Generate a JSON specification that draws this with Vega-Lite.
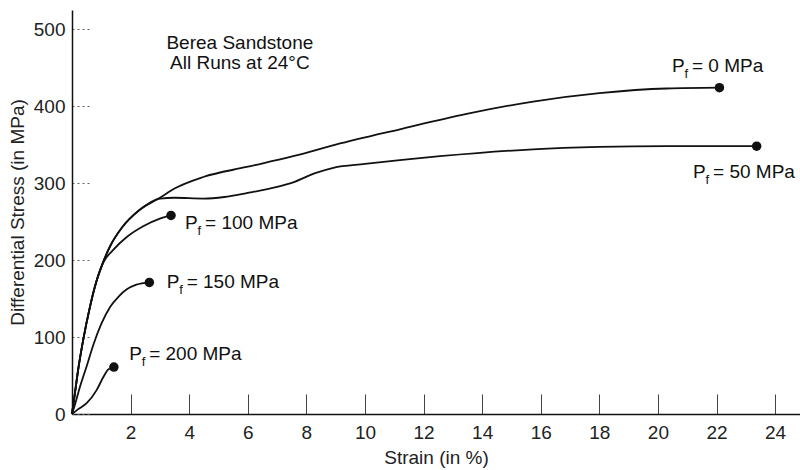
{
  "$schema": "https://vega.github.io/schema/vega-lite/v6.json",
  "width": 728,
  "height": 404,
  "autosize": {"type": "none"},
  "padding": {"left": 72, "top": 10, "right": 0, "bottom": 56},
  "background": "white",
  "config": {
    "view": {"stroke": null},
    "font": "Liberation Sans",
    "axis": {"labelFont": "Liberation Sans", "titleFont": "Liberation Sans", "labelColor": "#222", "titleColor": "#222", "labelFontSize": 19, "titleFontSize": 19, "titleFontWeight": "normal", "grid": false, "domainColor": "#111", "domainWidth": 1.5}
  },
  "datasets": {
    "curves": [
      {"run": "0", "i": 0, "strain": 0, "stress": 0},
      {"run": "0", "i": 1, "strain": 0.1, "stress": 27},
      {"run": "0", "i": 2, "strain": 0.2, "stress": 55},
      {"run": "0", "i": 3, "strain": 0.4, "stress": 100},
      {"run": "0", "i": 4, "strain": 0.6, "stress": 137},
      {"run": "0", "i": 5, "strain": 0.8, "stress": 168},
      {"run": "0", "i": 6, "strain": 1.07, "stress": 198},
      {"run": "0", "i": 7, "strain": 1.3, "stress": 218},
      {"run": "0", "i": 8, "strain": 1.7, "stress": 242},
      {"run": "0", "i": 9, "strain": 2.3, "stress": 265},
      {"run": "0", "i": 10, "strain": 3.0, "stress": 281},
      {"run": "0", "i": 11, "strain": 3.5, "stress": 293},
      {"run": "0", "i": 12, "strain": 4.48, "stress": 308},
      {"run": "0", "i": 13, "strain": 5.96, "stress": 321},
      {"run": "0", "i": 14, "strain": 7.55, "stress": 335},
      {"run": "0", "i": 15, "strain": 9.0, "stress": 350},
      {"run": "0", "i": 16, "strain": 11.19, "stress": 370},
      {"run": "0", "i": 17, "strain": 13.47, "stress": 390},
      {"run": "0", "i": 18, "strain": 15.74, "stress": 406},
      {"run": "0", "i": 19, "strain": 18.0, "stress": 417},
      {"run": "0", "i": 20, "strain": 20.3, "stress": 423},
      {"run": "0", "i": 21, "strain": 22.1, "stress": 424},

      {"run": "50", "i": 0, "strain": 0, "stress": 0},
      {"run": "50", "i": 1, "strain": 0.1, "stress": 27},
      {"run": "50", "i": 2, "strain": 0.2, "stress": 55},
      {"run": "50", "i": 3, "strain": 0.4, "stress": 100},
      {"run": "50", "i": 4, "strain": 0.6, "stress": 137},
      {"run": "50", "i": 5, "strain": 0.8, "stress": 168},
      {"run": "50", "i": 6, "strain": 1.07, "stress": 198},
      {"run": "50", "i": 7, "strain": 1.3, "stress": 218},
      {"run": "50", "i": 8, "strain": 1.7, "stress": 242},
      {"run": "50", "i": 9, "strain": 2.3, "stress": 265},
      {"run": "50", "i": 10, "strain": 3.0, "stress": 280},
      {"run": "50", "i": 11, "strain": 3.5, "stress": 281},
      {"run": "50", "i": 12, "strain": 4.48, "stress": 280},
      {"run": "50", "i": 13, "strain": 5.2, "stress": 282},
      {"run": "50", "i": 14, "strain": 5.96, "stress": 287},
      {"run": "50", "i": 15, "strain": 7.0, "stress": 295},
      {"run": "50", "i": 16, "strain": 7.55, "stress": 301},
      {"run": "50", "i": 17, "strain": 8.3, "stress": 313},
      {"run": "50", "i": 18, "strain": 8.92, "stress": 320},
      {"run": "50", "i": 19, "strain": 10.0, "stress": 325},
      {"run": "50", "i": 20, "strain": 11.19, "stress": 330},
      {"run": "50", "i": 21, "strain": 12.56, "stress": 335},
      {"run": "50", "i": 22, "strain": 15.74, "stress": 344},
      {"run": "50", "i": 23, "strain": 18.0, "stress": 347},
      {"run": "50", "i": 24, "strain": 20.3, "stress": 348},
      {"run": "50", "i": 25, "strain": 23.37, "stress": 348},

      {"run": "100", "i": 0, "strain": 0, "stress": 0},
      {"run": "100", "i": 1, "strain": 0.1, "stress": 27},
      {"run": "100", "i": 2, "strain": 0.2, "stress": 55},
      {"run": "100", "i": 3, "strain": 0.4, "stress": 100},
      {"run": "100", "i": 4, "strain": 0.6, "stress": 137},
      {"run": "100", "i": 5, "strain": 0.8, "stress": 168},
      {"run": "100", "i": 6, "strain": 1.07, "stress": 197},
      {"run": "100", "i": 7, "strain": 1.4, "stress": 213},
      {"run": "100", "i": 8, "strain": 1.87, "stress": 230},
      {"run": "100", "i": 9, "strain": 2.43, "stress": 244},
      {"run": "100", "i": 10, "strain": 3.0, "stress": 254},
      {"run": "100", "i": 11, "strain": 3.38, "stress": 258},

      {"run": "150", "i": 0, "strain": 0, "stress": 0},
      {"run": "150", "i": 1, "strain": 0.1, "stress": 12},
      {"run": "150", "i": 2, "strain": 0.27, "stress": 35},
      {"run": "150", "i": 3, "strain": 0.5, "stress": 62},
      {"run": "150", "i": 4, "strain": 0.73, "stress": 90},
      {"run": "150", "i": 5, "strain": 1.0, "stress": 117},
      {"run": "150", "i": 6, "strain": 1.3, "stress": 139},
      {"run": "150", "i": 7, "strain": 1.6, "stress": 153},
      {"run": "150", "i": 8, "strain": 1.87, "stress": 162},
      {"run": "150", "i": 9, "strain": 2.2, "stress": 168},
      {"run": "150", "i": 10, "strain": 2.64, "stress": 171},

      {"run": "200", "i": 0, "strain": 0, "stress": 0},
      {"run": "200", "i": 1, "strain": 0.2, "stress": 6},
      {"run": "200", "i": 2, "strain": 0.5, "stress": 14},
      {"run": "200", "i": 3, "strain": 0.84, "stress": 31},
      {"run": "200", "i": 4, "strain": 1.07, "stress": 48},
      {"run": "200", "i": 5, "strain": 1.24, "stress": 58},
      {"run": "200", "i": 6, "strain": 1.43, "stress": 61}
    ],
    "ends": [
      {"run": "0", "strain": 22.1, "stress": 424},
      {"run": "50", "strain": 23.37, "stress": 348},
      {"run": "100", "strain": 3.38, "stress": 258},
      {"run": "150", "strain": 2.64, "stress": 171},
      {"run": "200", "strain": 1.43, "stress": 61}
    ],
    "labels": [
      {"rest": "= 0 MPa", "lx": 20.48, "ly": 452},
      {"rest": "= 50 MPa", "lx": 21.2, "ly": 314},
      {"rest": "= 100 MPa", "lx": 3.86, "ly": 248},
      {"rest": "= 150 MPa", "lx": 3.23, "ly": 171},
      {"rest": "= 200 MPa", "lx": 1.95, "ly": 78}
    ],
    "title": [
      {"line": "Berea Sandstone", "tx": 5.73, "ty": 482},
      {"line": "All Runs at 24°C", "tx": 5.73, "ty": 456}
    ]
  },
  "layer": [
    {
      "data": {"name": "curves"},
      "mark": {"type": "line", "color": "#111", "strokeWidth": 1.8, "interpolate": "monotone"},
      "encoding": {
        "x": {"field": "strain", "type": "quantitative", "scale": {"domain": [0, 24.85], "nice": false, "zero": false},
          "axis": {"values": [2, 4, 6, 8, 10, 12, 14, 16, 18, 20, 22, 24], "title": "Strain (in %)", "tickSize": -20, "tickColor": "#444", "tickWidth": 1, "labelPadding": 29, "titlePadding": 6}},
        "y": {"field": "stress", "type": "quantitative", "scale": {"domain": [0, 525], "nice": false},
          "axis": {"values": [0, 100, 200, 300, 400, 500], "title": "Differential Stress (in MPa)", "tickSize": -20, "tickColor": "#666", "tickDash": [2, 3], "tickWidth": 1, "labelPadding": 27, "titlePadding": 6}},
        "detail": {"field": "run"},
        "order": {"field": "i", "type": "quantitative"}
      }
    },
    {
      "data": {"name": "ends"},
      "mark": {"type": "point", "filled": true, "color": "#111", "opacity": 1, "size": 90},
      "encoding": {
        "x": {"field": "strain", "type": "quantitative"},
        "y": {"field": "stress", "type": "quantitative"}
      }
    },
    {
      "data": {"name": "labels"},
      "mark": {"type": "text", "align": "left", "baseline": "middle", "fontSize": 19, "color": "#111", "font": "Liberation Sans"},
      "encoding": {
        "x": {"field": "lx", "type": "quantitative"},
        "y": {"field": "ly", "type": "quantitative"},
        "text": {"value": "P"}
      }
    },
    {
      "data": {"name": "labels"},
      "mark": {"type": "text", "align": "left", "baseline": "middle", "fontSize": 13, "dx": 12.5, "dy": 8, "color": "#111", "font": "Liberation Sans"},
      "encoding": {
        "x": {"field": "lx", "type": "quantitative"},
        "y": {"field": "ly", "type": "quantitative"},
        "text": {"value": "f"}
      }
    },
    {
      "data": {"name": "labels"},
      "mark": {"type": "text", "align": "left", "baseline": "middle", "fontSize": 19, "dx": 20, "color": "#111", "font": "Liberation Sans"},
      "encoding": {
        "x": {"field": "lx", "type": "quantitative"},
        "y": {"field": "ly", "type": "quantitative"},
        "text": {"field": "rest"}
      }
    },
    {
      "data": {"name": "title"},
      "mark": {"type": "text", "align": "center", "baseline": "middle", "fontSize": 19, "color": "#111", "font": "Liberation Sans"},
      "encoding": {
        "x": {"field": "tx", "type": "quantitative"},
        "y": {"field": "ty", "type": "quantitative"},
        "text": {"field": "line"}
      }
    }
  ]
}
